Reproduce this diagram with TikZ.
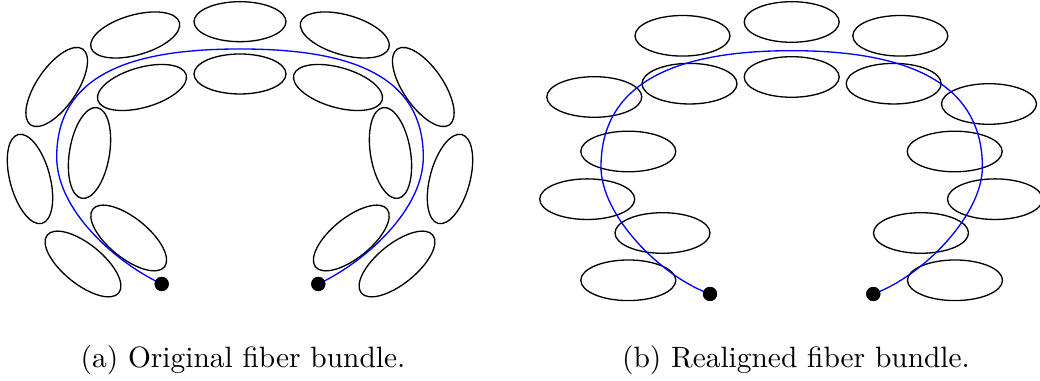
\documentclass[tikz,border=0pt]{standalone}
\begin{document}
\begin{tikzpicture}[x=0.34pt,y=-0.34pt,
  fiber/.style={draw=black,line width=0.45pt},
  trace/.style={draw=blue,line width=0.45pt},
  dotnode/.style={circle,fill=black,inner sep=0pt,minimum size=4.8pt},
  caption/.style={anchor=base,inner sep=0pt,font=\normalsize}]
\useasboundingbox (0,0) rectangle (1040,381);
\newcommand\fibA[3]{\draw[fiber,rotate around={#3:(#1,#2)}] (#1,#2) ellipse (46 and 20);}
\newcommand\fibB[2]{\draw[fiber] (#1,#2) ellipse (47.5 and 20.3);}
% ---- panel (a)
\fibA{240}{21.7}{0}
\fibA{240}{74}{0}
\fibA{135.2}{35}{16}
\fibA{142}{87.5}{16}
\fibA{344.8}{35}{-16}
\fibA{338}{87.5}{-16}
\fibA{56.7}{87}{55.5}
\fibA{89.5}{153}{80.5}
\fibA{30}{179}{-75}
\fibA{128.7}{238}{-39}
\fibA{83}{264}{-39}
\fibA{423.3}{87}{-55.5}
\fibA{390.5}{153}{-80.5}
\fibA{450}{179}{75}
\fibA{351.3}{238}{39}
\fibA{397}{264}{39}
\node[dotnode] (aL) at (161.7,284) {};
\node[dotnode] (aR) at (318.3,284) {};
\draw[trace] (aL.center) .. controls (115,262) and (56.7,210) .. (56.7,157)
  .. controls (56.7,70) and (140,49) .. (240,49)
  .. controls (340,49) and (423.3,70) .. (423.3,157)
  .. controls (423.3,210) and (365,262) .. (aR.center);
\node[dotnode] at (aL) {};
\node[dotnode] at (aR) {};
% ---- panel (b)
\fibB{682.5}{35.8}
\fibB{791.7}{22}
\fibB{900.3}{35.8}
\fibB{689.5}{83.7}
\fibB{791.7}{77}
\fibB{893.7}{83.7}
\fibB{594.3}{97}
\fibB{989}{104}
\fibB{628.3}{151.5}
\fibB{954.7}{151.5}
\fibB{587.2}{199.2}
\fibB{995}{199.2}
\fibB{662.5}{233}
\fibB{921}{233}
\fibB{628.3}{280.3}
\fibB{955}{280.3}
\node[dotnode] (bL) at (710,294) {};
\node[dotnode] (bR) at (873.3,294) {};
\draw[trace] (bL.center) .. controls (660,276) and (601,215) .. (601,167)
  .. controls (601,75) and (690,50.7) .. (791.7,50.7)
  .. controls (893,50.7) and (982.4,75) .. (982.4,167)
  .. controls (982.4,215) and (923,276) .. (bR.center);
\node[dotnode] at (bL) {};
\node[dotnode] at (bR) {};
% ---- captions
\node[caption] (capA) at (243,367.5) {(a) Original fiber bundle.};
\node[caption] (capB) at (796,367.5) {(b) Realigned fiber bundle.};
\end{tikzpicture}
\end{document}
